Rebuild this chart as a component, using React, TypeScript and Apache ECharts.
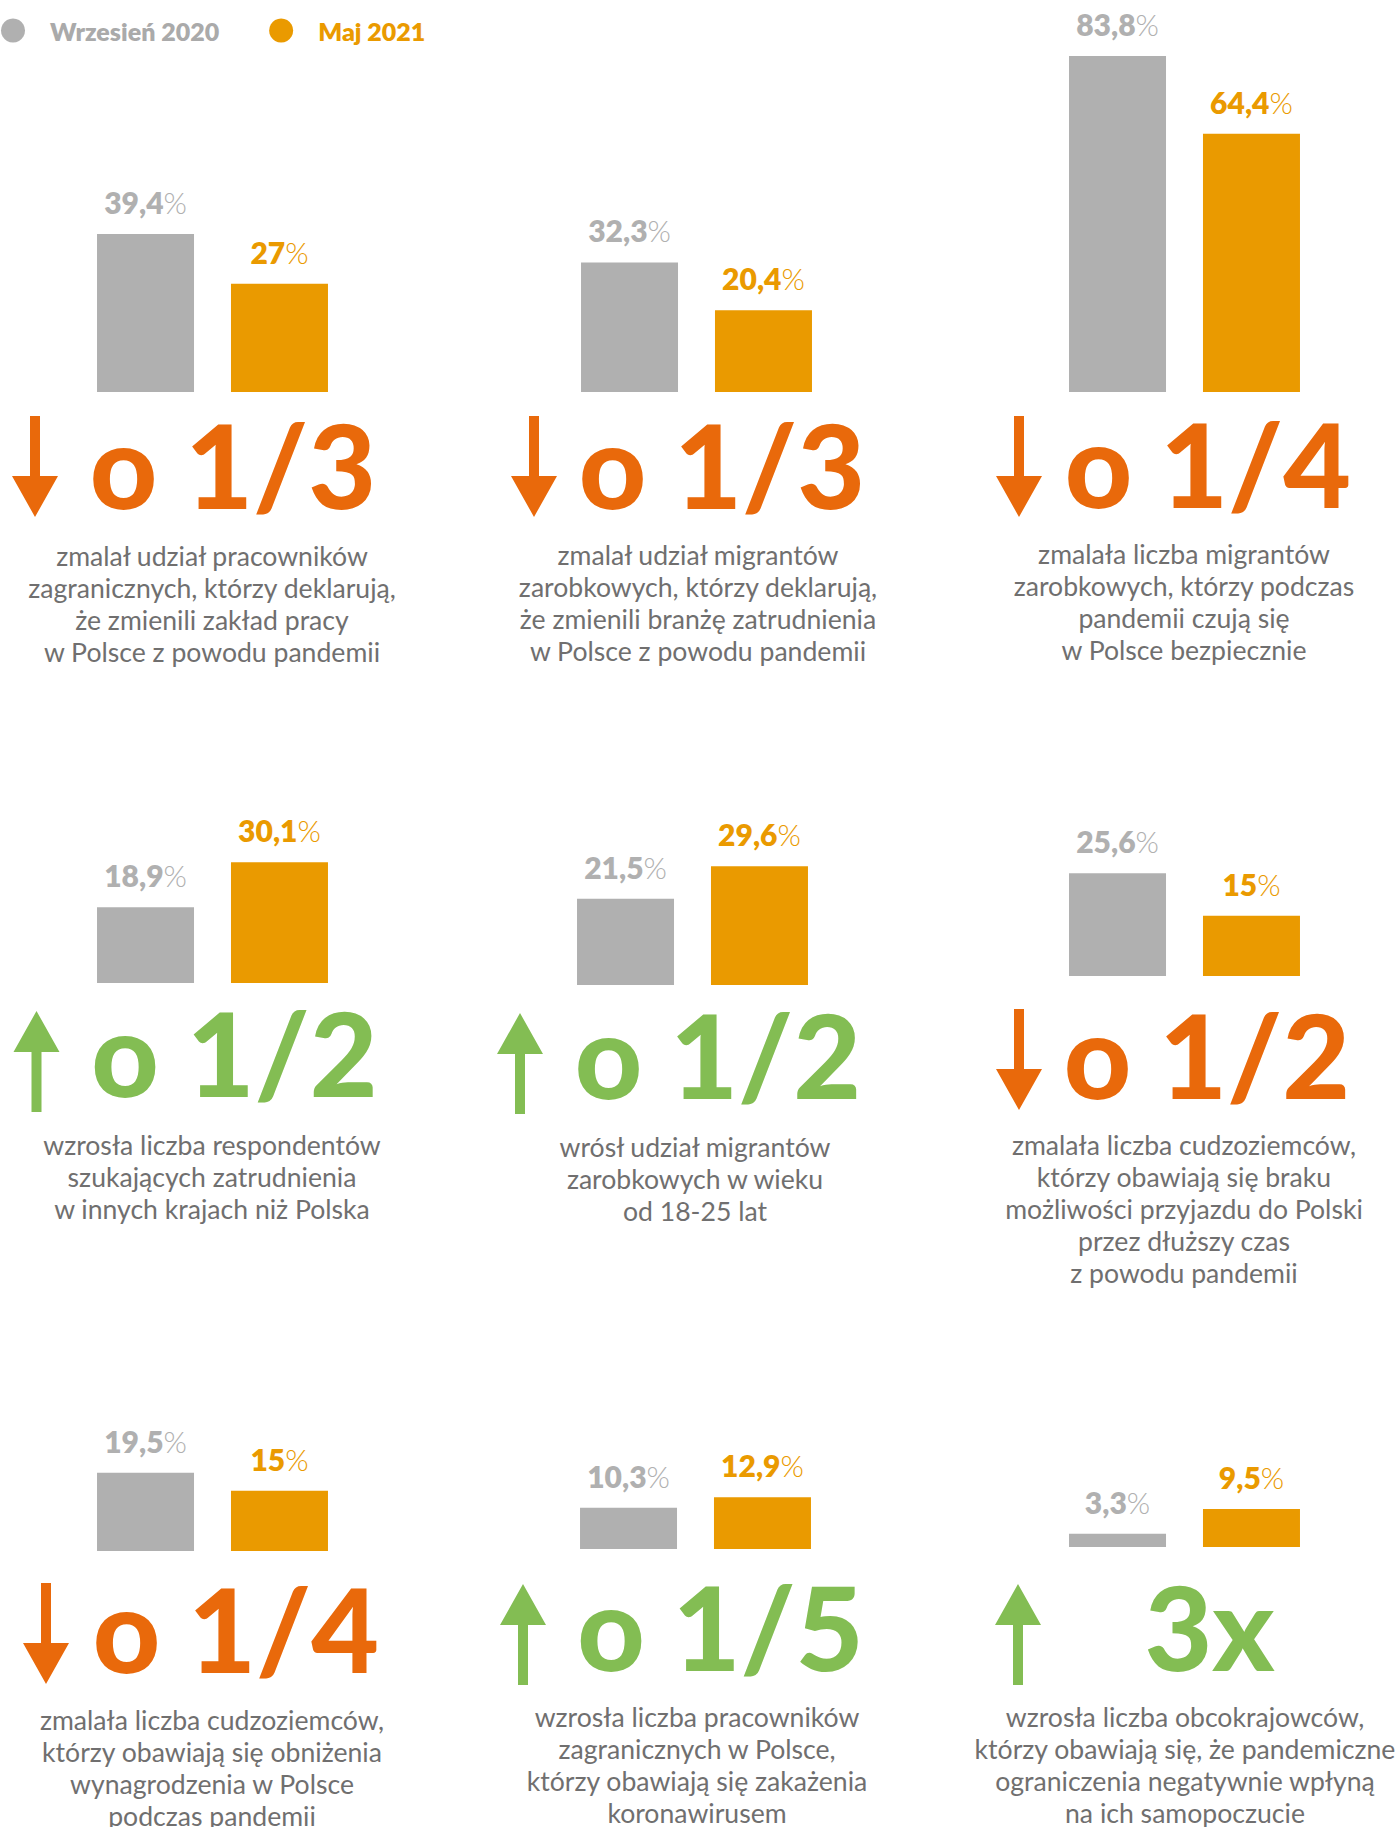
import React, { useEffect, useRef } from 'react';
import * as echarts from 'echarts';

// ---------- data ----------
const seriesNames = ['Wrzesień 2020', 'Maj 2021'];
const septValues = [39.4, 32.3, 83.8, 18.9, 21.5, 25.6, 19.5, 10.3, 3.3];
const mayValues = [27, 20.4, 64.4, 30.1, 29.6, 15, 15, 12.9, 9.5];
const changeLabels = ['o 1/3', 'o 1/3', 'o 1/4', 'o 1/2', 'o 1/2', 'o 1/2', 'o 1/4', 'o 1/5', '3x'];
const directions = ['down', 'down', 'down', 'up', 'up', 'down', 'down', 'up', 'up'];
const descriptions = [
  ['zmalał udział pracowników', 'zagranicznych, którzy deklarują,', 'że zmienili zakład pracy', 'w Polsce z powodu pandemii'],
  ['zmalał udział migrantów', 'zarobkowych, którzy deklarują,', 'że zmienili branżę zatrudnienia', 'w Polsce z powodu pandemii'],
  ['zmalała liczba migrantów', 'zarobkowych, którzy podczas', 'pandemii czują się', 'w Polsce bezpiecznie'],
  ['wzrosła liczba respondentów', 'szukających zatrudnienia', 'w innych krajach niż Polska'],
  ['wrósł udział migrantów', 'zarobkowych w wieku', 'od 18-25 lat'],
  ['zmalała liczba cudzoziemców,', 'którzy obawiają się braku', 'możliwości przyjazdu do Polski', 'przez dłuższy czas', 'z powodu pandemii'],
  ['zmalała liczba cudzoziemców,', 'którzy obawiają się obniżenia', 'wynagrodzenia w Polsce', 'podczas pandemii'],
  ['wzrosła liczba pracowników', 'zagranicznych w Polsce,', 'którzy obawiają się zakażenia', 'koronawirusem'],
  ['wzrosła liczba obcokrajowców,', 'którzy obawiają się, że pandemiczne', 'ograniczenia negatywnie wpłyną', 'na ich samopoczucie'],
];

// ---------- layout ----------
const W = 1398;
const H = 1827;
const FONT = 'Lato';
const Y_MAX = 90;
const PX_PER_UNIT = 4.01;
const BAR_W = 97;
const barLeft = [97, 581, 1069, 97, 577, 1069, 97, 580, 1069];
const barBase = [392, 392, 392, 983, 985, 976, 1551, 1549, 1547];
const arrowX = [35, 534, 1019, 36.5, 520, 1019, 46, 523, 1018];
const arrowTop = [416, 416, 416, 1011, 1013, 1009, 1583, 1584, 1584];
const bigCx = [233, 722, 1208, 234.5, 718, 1207, 236, 720.5, 1209.5];
const bigBase = [509, 509, 508, 1097, 1099, 1099, 1673, 1671, 1671];
const descCx = [212, 698, 1184, 212, 695, 1184, 212, 697, 1185];
const descBase = [566, 565, 564, 1155, 1157, 1155, 1730, 1727, 1727];

const GREY = '#b0b0b0';
const ORANGE = '#ea9a00';
const DOWN = '#e9690b';
const UP = '#83bd53';
const TEXT = '#706f6f';
const BIG_FS = 117;
const DESC_FS = 26.6;
const DESC_LH = 32;

function fmt(v: number) {
  return String(v).replace('.', ',');
}

function arrowPoints(cx: number, y0: number, dir: string) {
  if (dir === 'down') {
    return [
      [cx - 5, y0], [cx + 5, y0], [cx + 5, y0 + 60], [cx + 23, y0 + 60],
      [cx, y0 + 101], [cx - 23, y0 + 60], [cx - 5, y0 + 60],
    ];
  }
  return [
    [cx, y0], [cx + 23, y0 + 41], [cx + 5, y0 + 41], [cx + 5, y0 + 101],
    [cx - 5, y0 + 101], [cx - 5, y0 + 41], [cx - 23, y0 + 41],
  ];
}

function buildOption() {
  const gridH = Y_MAX * PX_PER_UNIT;
  const grids: any[] = [];
  const xAxes: any[] = [];
  const yAxes: any[] = [];
  const series: any[] = [];
  const graphics: any[] = [];

  const labelFor = (color: string) => ({
    show: true,
    position: 'top',
    distance: 17,
    formatter: (p: any) => `{n|${fmt(p.value)}}{p|%}`,
    rich: {
      n: { fontFamily: FONT, fontSize: 30, fontWeight: 800, color, lineHeight: 30 },
      p: { fontFamily: FONT, fontSize: 30, fontWeight: 300, color, lineHeight: 30 },
    },
  });

  for (let i = 0; i < septValues.length; i++) {
    const center = barLeft[i] + (2 * BAR_W + 37) / 2;
    grids.push({
      left: center - 150,
      width: 300,
      top: barBase[i] - gridH,
      height: gridH,
      containLabel: false,
    });
    xAxes.push({ type: 'category', gridIndex: i, data: [''], show: false });
    yAxes.push({ type: 'value', gridIndex: i, min: 0, max: Y_MAX, show: false, splitLine: { show: false } });
    series.push({
      type: 'bar',
      name: seriesNames[0],
      xAxisIndex: i,
      yAxisIndex: i,
      data: [septValues[i]],
      barWidth: BAR_W,
      barGap: '38.1%',
      itemStyle: { color: GREY },
      label: labelFor(GREY),
      silent: true,
    });
    series.push({
      type: 'bar',
      name: seriesNames[1],
      xAxisIndex: i,
      yAxisIndex: i,
      data: [mayValues[i]],
      barWidth: BAR_W,
      barGap: '38.1%',
      itemStyle: { color: ORANGE },
      label: labelFor(ORANGE),
      silent: true,
    });

    const col = directions[i] === 'down' ? DOWN : UP;
    graphics.push({
      type: 'polygon',
      shape: { points: arrowPoints(arrowX[i], arrowTop[i], directions[i]) },
      style: { fill: col },
      silent: true,
    });
    graphics.push({
      type: 'text',
      x: bigCx[i],
      y: bigBase[i] - 0.387 * BIG_FS,
      style: {
        text: changeLabels[i],
        fill: col,
        font: `900 ${BIG_FS}px ${FONT}`,
        align: 'center',
        verticalAlign: 'middle',
      },
      silent: true,
    });
    graphics.push({
      type: 'text',
      x: descCx[i],
      y: descBase[i] - DESC_LH / 2 - 0.387 * DESC_FS,
      style: {
        text: descriptions[i].join('\n'),
        fill: TEXT,
        font: `400 ${DESC_FS}px ${FONT}`,
        lineHeight: DESC_LH,
        align: 'center',
        verticalAlign: 'top',
      },
      silent: true,
    });
  }

  return {
    animation: false,
    backgroundColor: '#ffffff',
    legend: {
      left: 1,
      top: 18,
      padding: 0,
      icon: 'circle',
      itemWidth: 24,
      itemHeight: 24,
      itemGap: 50,
      selectedMode: false,
      textStyle: { fontFamily: FONT, fontSize: 25, fontWeight: 800, padding: [0, 0, 0, 20] },
      data: [
        { name: seriesNames[0], textStyle: { color: '#aaaaaa' } },
        { name: seriesNames[1], textStyle: { color: ORANGE } },
      ],
    },
    grid: grids,
    xAxis: xAxes,
    yAxis: yAxes,
    series,
    graphic: graphics,
  };
}

export default function App() {
  const ref = useRef<HTMLDivElement>(null);
  useEffect(() => {
    if (!ref.current) return;
    const chart = echarts.init(ref.current, undefined, { renderer: 'svg' });
    chart.setOption(buildOption() as any);
    return () => chart.dispose();
  }, []);
  return (
    <div
      ref={ref}
      style={{ position: 'absolute', left: 0, top: 0, width: W, height: H, background: '#fff' }}
    />
  );
}
